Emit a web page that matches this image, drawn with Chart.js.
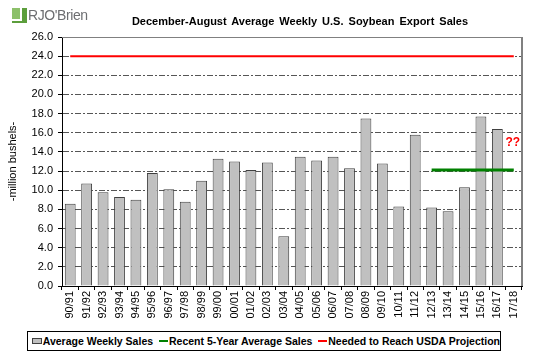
<!DOCTYPE html>
<html>
<head>
<meta charset="utf-8">
<script src="https://cdn.jsdelivr.net/npm/chart.js@4/dist/chart.umd.min.js"></script>
<style>
  html, body { margin:0; padding:0; background:#fff; }
  #wrap { position:relative; width:541px; height:360px; overflow:hidden; font-family:"Liberation Sans", Arial, sans-serif; }
  #c { position:absolute; left:0; top:0; }
  #title { position:absolute; left:100px; width:400px; top:15px; text-align:center; font-weight:bold; font-size:11px; word-spacing:2px; color:#000; }
  #logo { position:absolute; left:12px; top:7px; height:18px; }
  #logo .icon { position:absolute; left:0; top:1px; width:15px; height:15px; background:#5c9e3c; }
  #logo .icon .w1 { position:absolute; left:8px; top:0; width:2px; height:11px; background:#fff; }
  #logo .icon .w2 { position:absolute; left:0; top:11px; width:10px; height:2px; background:#fff; }
  #logo .icon .d { position:absolute; left:0; top:0; width:8px; height:11px; background:#8cc06a; }
  #logo .txt { position:absolute; left:16px; top:0; font-size:14px; color:#6d6e71; letter-spacing:-0.4px; white-space:nowrap; }
  #legend { position:absolute; left:27px; top:331px; width:472px; height:18px; border:1px solid #000; background:#fff; display:flex; align-items:center; font-size:10.5px; font-weight:bold; white-space:nowrap; }
  .sw-bar { display:inline-block; width:20px; height:4px; background:#c0c0c0; border:1px solid #404040; margin-left:4px; margin-right:1px; }
  .sw-line { display:inline-block; width:23px; height:2px; margin-left:6px; margin-right:1px; }
</style>
</head>
<body>
<div id="wrap">
  <canvas id="c" width="541" height="360"></canvas>
  <div id="logo"><div class="icon"><div class="d"></div><div class="w1"></div><div class="w2"></div></div><div class="txt">RJO'Brien</div></div>
  <div id="title">December-August Average Weekly U.S. Soybean Export Sales</div>
  <div id="legend">
    <span class="sw-bar"></span><span>Average Weekly Sales</span>
    <span class="sw-line" style="background:#008000"></span><span>Recent 5-Year Average Sales</span>
    <span class="sw-line" style="background:#ff0000"></span><span>Needed to Reach USDA Projection</span>
  </div>
</div>
<script>
const seasons = ['90/91','91/92','92/93','93/94','94/95','95/96','96/97','97/98','98/99','99/00',
  '00/01','01/02','02/03','03/04','04/05','05/06','06/07','07/08','08/09','09/10',
  '10/11','11/12','12/13','13/14','14/15','15/16','16/17','17/18'];
const avgWeeklySales = [8.6,10.7,9.8,9.3,9.0,11.8,10.1,8.8,11.0,13.3,
  13.0,12.1,12.9,5.2,13.5,13.1,13.5,12.3,17.5,12.8,
  8.3,15.8,8.2,7.8,10.3,17.7,16.4,null];
const recent5YrAvg = [null,null,null,null,null,null,null,null,null,null,
  null,null,null,null,null,null,null,null,null,null,
  null,null,12.1,12.1,12.1,12.1,12.1,12.1];
const neededForUSDA = [24,24,24,24,24,24,24,24,24,24,
  24,24,24,24,24,24,24,24,24,24,
  24,24,24,24,24,24,24,24];
const yTicks = [0,2,4,6,8,10,12,14,16,18,20,22,24,26];
const noteLabel = '??';
const noteValue = 15.0;
const noteIndex = 27;

const FONT = '"Liberation Sans", Arial, sans-serif';

const framePlugin = {
  id: 'frame',
  beforeDatasetsDraw(chart) {
    const {ctx, chartArea: a} = chart;
    ctx.save();
    ctx.strokeStyle = '#808080';
    ctx.lineWidth = 1;
    ctx.beginPath();
    ctx.moveTo(a.left, a.top + 0.5);
    ctx.lineTo(a.right, a.top + 0.5);
    ctx.stroke();
    ctx.lineWidth = 2;
    ctx.beginPath();
    ctx.moveTo(a.right, a.top);
    ctx.lineTo(a.right, a.bottom);
    ctx.stroke();
    ctx.restore();
  },
  afterDraw(chart) {
    const {ctx, scales} = chart;
    const x = scales.x.getPixelForValue(noteIndex);
    const y = scales.y.getPixelForValue(noteValue);
    ctx.save();
    ctx.fillStyle = '#ff0000';
    ctx.font = 'bold 12px ' + FONT;
    ctx.textAlign = 'center';
    ctx.textBaseline = 'middle';
    ctx.fillText(noteLabel, x - 1, y);
    ctx.restore();
  }
};

new Chart(document.getElementById('c'), {
  data: {
    labels: seasons,
    datasets: [
      { type:'bar', label:'Average Weekly Sales', data: avgWeeklySales,
        backgroundColor:'#c0c0c0', borderColor:'#404040', borderWidth:1,
        barPercentage:0.66, categoryPercentage:1.0, order:3 },
      { type:'line', label:'Recent 5-Year Average Sales', data: recent5YrAvg,
        borderColor:'#008000', borderWidth:3, pointRadius:0, fill:false, spanGaps:false, order:1 },
      { type:'line', label:'Needed to Reach USDA Projection', data: neededForUSDA,
        borderColor:'#ff0000', borderWidth:2, pointRadius:0, fill:false, order:2 }
    ]
  },
  options: {
    responsive:false,
    animation:false,
    layout:{ padding:{ left:0, right:19, top:37, bottom:0 } },
    plugins:{ legend:{display:false}, tooltip:{enabled:false}, title:{display:false} },
    scales:{
      x:{
        type:'category',
        offset:true,
        grid:{ display:true, offset:true, drawOnChartArea:false, drawTicks:true, tickLength:4, color:'#000', tickColor:'#000' },
        border:{ display:true, color:'#000', width:1 },
        ticks:{ autoSkip:false, maxRotation:90, minRotation:90, padding:1, color:'#000', font:{ family:FONT, size:11 } },
        afterFit(s){ s.height = 74; }
      },
      y:{
        min:0, max:26,
        afterBuildTicks(s){ s.ticks = yTicks.map(v => ({value:v})); },
        grid:{ drawOnChartArea:true, drawTicks:true, tickLength:4, lineWidth:1,
          color:(c)=> (c.tick && (c.tick.value===0 || c.tick.value===26)) ? 'rgba(0,0,0,0)' : '#555',
          tickColor:'#000', tickBorderDash:[] },
        border:{ display:true, color:'#000', width:1, dash:[6,2,2,2] },
        ticks:{ padding:5, color:'#000', font:{ family:FONT, size:11 }, callback:(v)=> Number(v).toFixed(1) },
        title:{ display:true, text:'-million bushels-', color:'#000', font:{ family:FONT, size:11 }, padding:{top:6, bottom:0} },
        afterFit(s){ s.width = 62; }
      }
    }
  },
  plugins:[framePlugin]
});
</script>
</body>
</html>
